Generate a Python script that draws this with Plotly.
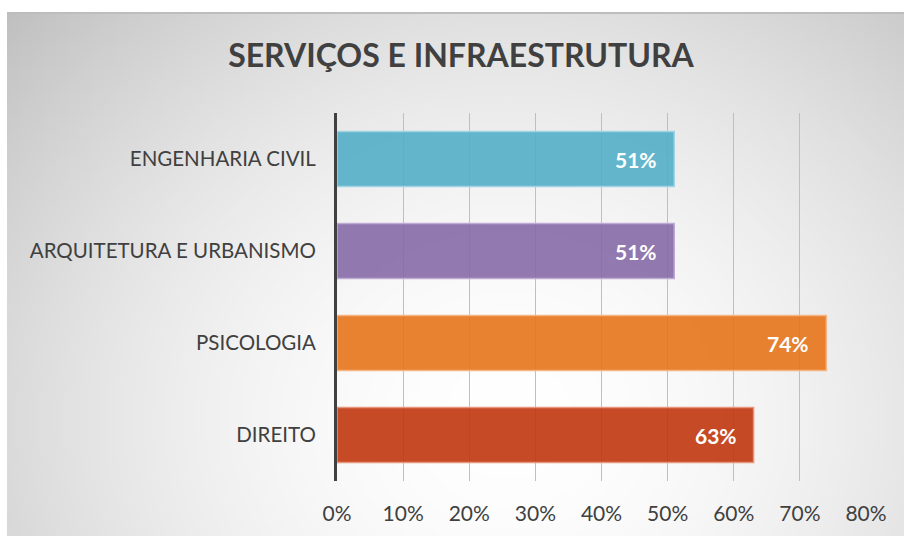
import base64, struct, zlib
import numpy as np
import plotly.graph_objects as go

# ---- data ----
categories = ["ENGENHARIA CIVIL", "ARQUITETURA E URBANISMO", "PSICOLOGIA", "DIREITO"]
values = [51, 51, 74, 63]
value_labels = ["51%", "51%", "74%", "63%"]
x_ticks = [0, 10, 20, 30, 40, 50, 60, 70, 80]
x_tick_labels = ["0%", "10%", "20%", "30%", "40%", "50%", "60%", "70%", "80%"]
title_text = "SERVIÇOS E INFRAESTRUTURA"

bar_colors = ["rgba(83,174,199,0.9)", "rgba(134,106,166,0.9)",
              "rgba(229,115,26,0.9)", "rgba(192,54,14,0.9)"]
bar_lines = ["rgba(160,212,228,1)", "rgba(190,170,210,1)",
             "rgba(245,180,130,1)", "rgba(230,150,125,1)"]

W, H = 904, 536
L, T = 337, 113
R = W - 866
B = H - 481


def png_uri(arr):
    h, w, _ = arr.shape
    raw = b"".join(b"\x00" + arr[i].tobytes() for i in range(h))

    def chunk(tag, data):
        c = struct.pack(">I", len(data)) + tag + data
        return c + struct.pack(">I", zlib.crc32(tag + data) & 0xffffffff)

    png = b"\x89PNG\r\n\x1a\n" + chunk(b"IHDR", struct.pack(">IIBBBBB", w, h, 8, 2, 0, 0, 0))
    png += chunk(b"IDAT", zlib.compress(raw, 9)) + chunk(b"IEND", b"")
    return "data:image/png;base64," + base64.b64encode(png).decode()


gw, gh = 300, 175
yy, xx = np.mgrid[0:gh, 0:gw]
fx = xx / (gw - 1)
fy = yy / (gh - 1)
d = np.sqrt(((fx - 0.56) / 0.75) ** 2 + ((fy - 0.78) / 1.15) ** 2)
d = np.clip(d, 0, 1.1)
g = 255 - 62 * d ** 1.8
g = np.clip(g, 0, 255).astype(np.uint8)
bg = np.stack([g, g, g], axis=-1)
bg_uri = png_uri(bg)

pw, ph = W - L - R, H - T - B
img_x0 = (7 - L) / pw
img_x1 = (W - L) / pw
img_y0 = 1 + (T - 13) / ph
img_y1 = 1 - (H - T) / ph

fig = go.Figure()
fig.add_trace(go.Bar(
    x=values, y=categories, orientation="h",
    marker=dict(color=bar_colors, line=dict(color=bar_lines, width=1.5)),
    width=0.6, hoverinfo="skip",
))

for c, v, t in zip(categories, values, value_labels):
    fig.add_annotation(x=v, y=c, text="<b>" + t + "</b>", showarrow=False,
                       xanchor="right", xshift=-15, yshift=0,
                       font=dict(family="Lato, Open Sans, sans-serif", size=21, color="white"))

fig.add_layout_image(dict(source=bg_uri, xref="paper", yref="paper",
                          x=img_x0, y=img_y0, sizex=img_x1 - img_x0, sizey=img_y0 - img_y1,
                          sizing="stretch", layer="below", xanchor="left", yanchor="top"))

fig.add_shape(type="line", xref="paper", yref="paper", x0=img_x0, x1=img_x1,
              y0=img_y0, y1=img_y0, line=dict(color="#BDBDBD", width=2))

fig.update_layout(
    width=W, height=H,
    margin=dict(l=L, r=R, t=T, b=B, pad=0),
    paper_bgcolor="white", plot_bgcolor="rgba(0,0,0,0)",
    showlegend=False,
    title=dict(text="<b>" + title_text + "</b>", x=461 / W, xanchor="center",
               y=1 - 56 / H, yanchor="middle", xref="container", yref="container",
               font=dict(family="Lato, Open Sans, sans-serif", size=32, color="#404040")),
    xaxis=dict(range=[0, 80], tickvals=x_ticks, ticktext=x_tick_labels,
               showgrid=True, gridcolor="#BFBFBF", gridwidth=1, zeroline=False,
               showline=False, ticks="", ticklabelstandoff=18,
               tickfont=dict(family="Lato, Open Sans, sans-serif", size=21, color="#404040")),
    yaxis=dict(categoryorder="array", categoryarray=categories[::-1],
               showgrid=False, zeroline=False, showline=True, linecolor="#404040",
               linewidth=3, ticks="", ticklabelstandoff=14,
               tickfont=dict(family="Lato, Open Sans, sans-serif", size=20.5, color="#404040")),
    bargap=0.4,
)

fig.write_html("out.html", config={"displayModeBar": False, "staticPlot": True},
               post_script="document.body.style.margin='0';document.body.style.overflow='hidden';")
